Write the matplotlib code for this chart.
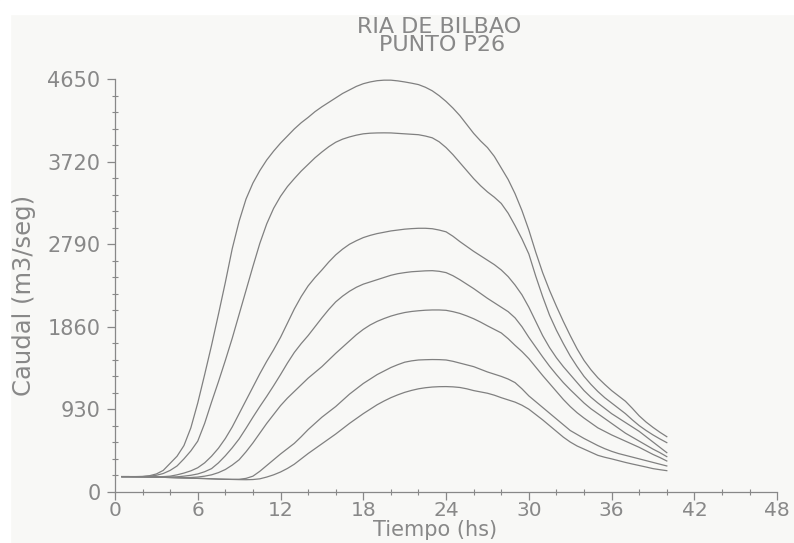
import matplotlib
matplotlib.use("Agg")
import matplotlib.pyplot as plt
from matplotlib.ticker import MultipleLocator
from matplotlib.patches import Rectangle

# time grid, every half hour from 0.5 h to 40 h
hours = [i / 2 for i in range(1, 81)]

caudal_1 = [170, 170, 170, 172, 180, 200, 240, 320, 400, 520, 720, 1000, 1320, 1650, 2000, 2360,
            2740, 3050, 3300, 3480, 3620, 3740, 3840, 3930, 4010, 4090, 4160, 4220, 4285, 4340,
            4390, 4440, 4490, 4530, 4570, 4600, 4620, 4634, 4640, 4640, 4632, 4620, 4606, 4590,
            4560, 4520, 4465, 4400, 4325, 4240, 4140, 4040, 3955, 3880, 3780, 3650, 3520, 3360,
            3170, 2950, 2700, 2470, 2270, 2090, 1920, 1760, 1610, 1480, 1375, 1285, 1210, 1140,
            1080, 1020, 940, 855, 785, 725, 670, 620]
caudal_2 = [170, 170, 170, 170, 175, 185, 205, 240, 290, 370, 460, 570, 770, 1010, 1240, 1480,
            1730, 2000, 2270, 2540, 2800, 3020, 3195, 3330, 3440, 3530, 3615, 3690, 3765, 3830,
            3890, 3940, 3975, 4000, 4020, 4035, 4042, 4045, 4046, 4045, 4040, 4035, 4030, 4025,
            4010, 3990, 3945, 3880, 3800, 3710, 3620, 3530, 3450, 3380, 3320, 3250, 3140, 3000,
            2850, 2680, 2430, 2200, 1990, 1820, 1670, 1530, 1410, 1300, 1210, 1130, 1060, 1000,
            940, 880, 810, 745, 690, 640, 595, 553]
caudal_3 = [170, 170, 170, 170, 169, 168, 170, 175, 190, 210, 235, 270, 325, 400, 490, 600,
            730, 880, 1030, 1180, 1330, 1470, 1600, 1740, 1900, 2060, 2200, 2320, 2415, 2500,
            2590, 2670, 2735, 2790, 2830, 2865, 2890, 2910, 2925, 2940, 2950, 2960, 2966, 2970,
            2970, 2965, 2950, 2930, 2880, 2820, 2765, 2710, 2660, 2610, 2560, 2500, 2425, 2330,
            2220, 2080, 1920, 1760, 1625, 1510, 1410, 1320, 1230, 1140, 1065, 1000, 940, 880,
            830, 780, 730, 680, 620, 560, 500, 440]
caudal_4 = [170, 170, 169, 168, 166, 165, 165, 165, 168, 175, 185, 200, 225, 260, 325, 405,
            495, 595, 715, 840, 960, 1075, 1195, 1320, 1450, 1570, 1670, 1760, 1860, 1960,
            2055, 2140, 2205, 2260, 2305, 2340, 2365, 2390, 2415, 2440, 2458, 2470, 2480, 2485,
            2490, 2492, 2485, 2470, 2435, 2390, 2340, 2290, 2235, 2180, 2130, 2080, 2030, 1960,
            1860, 1740, 1630, 1520, 1415, 1320, 1230, 1150, 1075, 1000, 935, 880, 825, 770,
            715, 660, 615, 570, 525, 480, 440, 395]
caudal_5 = [170, 170, 169, 168, 166, 165, 162, 160, 158, 158, 160, 165, 175, 190, 215, 250,
            300, 360, 450, 550, 660, 770, 870, 970, 1055, 1130, 1205, 1280, 1345, 1410,
            1485, 1560, 1630, 1700, 1770, 1830, 1880, 1920, 1952, 1980, 2002, 2020, 2032, 2040,
            2046, 2049, 2049, 2045, 2030, 2010, 1982, 1950, 1912, 1870, 1830, 1790, 1725, 1650,
            1580, 1500, 1405, 1310, 1220, 1130, 1040, 960, 890, 830, 775, 720, 680, 640,
            605, 570, 535, 500, 460, 420, 385, 346]
caudal_6 = [170, 170, 169, 168, 166, 165, 162, 160, 158, 155, 152, 150, 148, 145, 142, 140,
            139, 140, 150, 175, 230, 295, 360, 425, 485, 545, 620, 700, 770, 840,
            900, 960, 1030, 1100, 1160, 1220, 1270, 1320, 1360, 1400, 1432, 1460, 1475, 1485,
            1488, 1490, 1489, 1485, 1470, 1450, 1430, 1410, 1380, 1350, 1325, 1300, 1270, 1230,
            1160, 1080, 1015, 950, 885, 820, 755, 690, 645, 600, 560, 520, 485, 455,
            430, 410, 390, 370, 350, 330, 310, 290]
caudal_7 = [170, 170, 169, 168, 166, 165, 162, 160, 158, 155, 152, 150, 148, 145, 142, 140,
            138, 136, 135, 137, 145, 165, 190, 222, 262, 310, 370, 430, 485, 540,
            595, 650, 710, 770, 825, 880, 930, 980, 1022, 1060, 1092, 1120, 1142, 1160,
            1172, 1180, 1184, 1185, 1182, 1175, 1160, 1140, 1125, 1110, 1088, 1060, 1035, 1010,
            975, 930, 870, 810, 745, 680, 615, 560, 515, 480, 445, 410, 388, 370,
            350, 330, 312, 295, 278, 260, 248, 237]

series = [caudal_1, caudal_2, caudal_3, caudal_4, caudal_5, caudal_6, caudal_7]

x_ticks = [0, 6, 12, 18, 24, 30, 36, 42, 48]
y_ticks = [0, 930, 1860, 2790, 3720, 4650]

grey = "#888888"
plt.rcParams["font.family"] = ["DejaVu Sans"]

fig = plt.figure(figsize=(7.94, 5.43), dpi=100, facecolor="#f8f8f6")
# white paper border at top and left
fig.patches.append(Rectangle((0, 0.974), 1, 0.026, transform=fig.transFigure,
                             color="white", zorder=0))
fig.patches.append(Rectangle((0, 0), 0.012, 1, transform=fig.transFigure,
                             color="white", zorder=0))

ax = fig.add_axes([0.1448, 0.0945, 0.834, 0.7595])
ax.set_facecolor("none")

for q in series:
    ax.plot(hours, q, color="#808080", lw=0.9)

ax.set_xlim(0, 48)
ax.set_ylim(0, 4650)
ax.set_xticks(x_ticks)
ax.set_yticks(y_ticks)
ax.xaxis.set_minor_locator(MultipleLocator(2))
ax.yaxis.set_minor_locator(MultipleLocator(186))

for s in ["top", "right"]:
    ax.spines[s].set_visible(False)
for s in ["left", "bottom"]:
    ax.spines[s].set_color(grey)
    ax.spines[s].set_linewidth(0.9)

ax.tick_params(which="major", direction="out", length=5.5, width=0.9, color=grey,
               labelcolor=grey)
ax.tick_params(which="minor", direction="inout", length=4, width=0.8, color=grey)
ax.tick_params(axis="x", which="major", labelsize=14.5, pad=1.5)
ax.tick_params(axis="y", which="major", labelsize=15, pad=5)

ax.set_xlabel("Tiempo (hs)", fontsize=15, color=grey, va="center")
ax.xaxis.set_label_coords(0.484, -0.094)
ax.set_ylabel("Caudal (m3/seg)", fontsize=17.5, color=grey, va="center")
ax.yaxis.set_label_coords(-0.137, 0.477)

fig.text(0.553, 0.951, "RIA DE BILBAO", ha="center", va="center", fontsize=16, color=grey)
fig.text(0.557, 0.917, "PUNTO P26", ha="center", va="center", fontsize=16, color=grey)

fig.savefig("out.png", dpi=100, facecolor=fig.get_facecolor())
